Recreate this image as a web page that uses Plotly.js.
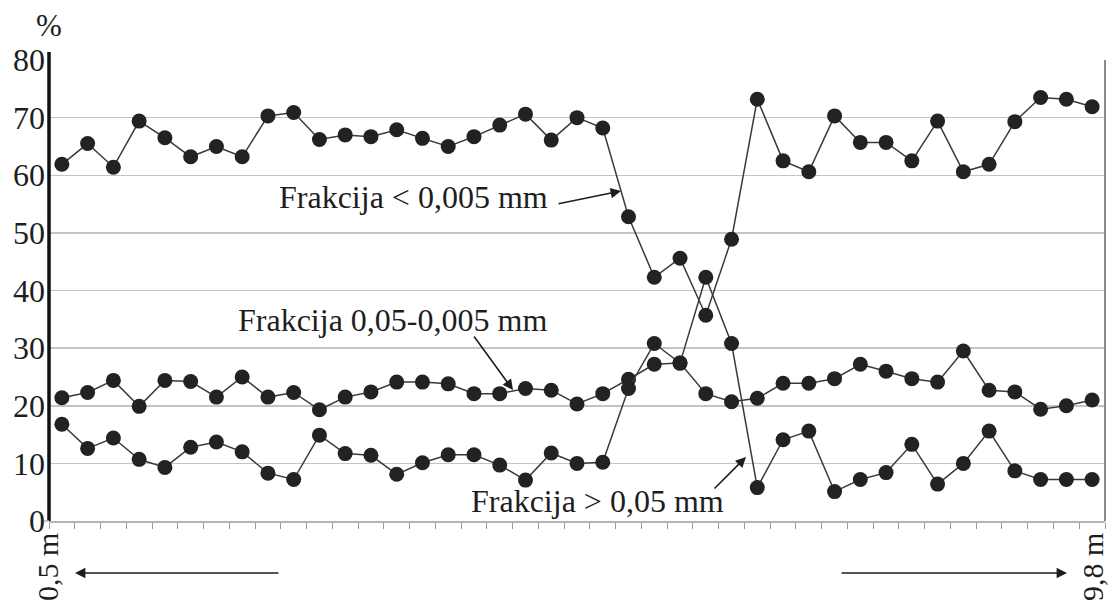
<!DOCTYPE html>
<html>
<head>
<meta charset="utf-8">
<script src="https://cdn.plot.ly/plotly-3.0.1.min.js"></script>
<style>
  html, body { margin: 0; padding: 0; background: #ffffff; }
  #chart { width: 1112px; height: 605px; }
</style>
</head>
<body>
<div id="chart"></div>
<script>
// Sample positions along the profile (0,5 m -> 9,8 m)
const samples = [1,2,3,4,5,6,7,8,9,10,11,12,13,14,15,16,17,18,19,20,21,22,23,24,25,26,27,28,29,30,31,32,33,34,35,36,37,38,39,40,41];

// Frakcija < 0,005 mm (%)
const fineClay = [61.9,65.5,61.4,69.4,66.5,63.2,65.0,63.2,70.3,70.9,66.2,67.0,66.7,67.9,66.4,65.0,66.7,68.7,70.6,66.1,70.0,68.2,52.8,42.3,45.6,35.7,48.9,73.2,62.5,60.6,70.3,65.7,65.7,62.5,69.4,60.6,61.9,69.3,73.5,73.2,71.9];

// Frakcija 0,05-0,005 mm (%)
const silt = [21.4,22.3,24.4,19.9,24.4,24.2,21.5,25.0,21.5,22.3,19.3,21.5,22.4,24.1,24.1,23.8,22.1,22.1,23.0,22.7,20.3,22.1,24.6,27.2,27.4,22.1,20.7,21.3,23.9,23.9,24.7,27.2,26.0,24.7,24.1,29.5,22.7,22.4,19.4,20.0,21.0];

// Frakcija > 0,05 mm (%)
const sand = [16.8,12.6,14.4,10.7,9.3,12.8,13.7,12.0,8.3,7.2,14.9,11.7,11.4,8.1,10.1,11.5,11.5,9.7,7.1,11.8,10.0,10.2,23.0,30.8,27.4,42.3,30.8,5.8,14.1,15.6,5.1,7.2,8.4,13.3,6.4,10.0,15.6,8.7,7.2,7.2,7.2];

const yTicks = [0,10,20,30,40,50,60,70,80];
const labels = ["Frakcija < 0,005 mm", "Frakcija 0,05-0,005 mm", "Frakcija > 0,05 mm"];
const startLabel = "0,5 m";
const endLabel = "9,8 m";
const unitLabel = "%";

// ---- layout geometry (pixels) ----
const W = 1112, H = 605;
const M = {l: 49, r: 7, t: 60, b: 84};
const PW = W - M.l - M.r, PH = H - M.t - M.b;
const px = x => (x - M.l) / PW;          // pixel -> paper x
const py = y => (H - M.b - y) / PH;      // pixel -> paper y

const FONT = "Liberation Serif";
const INK = "#1e1e1e";

function series(y, name) {
  return {
    x: samples, y: y, name: name, type: "scatter", mode: "lines+markers",
    line: {color: "#3a3a3a", width: 1.5},
    marker: {color: "#222222", size: 15, line: {width: 0}},
    hoverinfo: "x+y"
  };
}

const data = [series(fineClay, labels[0]), series(silt, labels[1]), series(sand, labels[2])];

const tickPos = [];
for (let i = 0; i <= samples.length; i++) tickPos.push(samples[0] - 0.5 + i);

const layout = {
  width: W, height: H,
  margin: M,
  paper_bgcolor: "#ffffff",
  plot_bgcolor: "#ffffff",
  showlegend: false,
  font: {family: FONT, color: INK, size: 27},
  xaxis: {
    range: [samples[0] - 0.5, samples[samples.length - 1] + 0.5],
    tickmode: "array", tickvals: tickPos, showticklabels: false,
    ticks: "outside", ticklen: 6, tickwidth: 1, tickcolor: "#9a9a9a",
    showgrid: false, zeroline: false,
    showline: true, linecolor: "#b5b5b5", linewidth: 1.5,
    fixedrange: true
  },
  yaxis: {
    range: [0, 80],
    tickmode: "array", tickvals: yTicks,
    tickfont: {family: FONT, size: 32, color: INK},
    ticks: "", ticklabelstandoff: 3,
    showgrid: true, gridcolor: "#c4c4c4", gridwidth: 1.5,
    zeroline: false,
    showline: false,
    fixedrange: true
  },
  shapes: [
    {type: "line", xref: "paper", yref: "paper", x0: 0, x1: 0, y0: 0, y1: py(52), line: {color: "#111111", width: 3.5}},
    {type: "line", xref: "paper", yref: "paper", x0: 1, x1: 1, y0: 0, y1: 1, line: {color: "#8a8a8a", width: 2}},
    {type: "line", xref: "paper", yref: "paper", x0: px(44), x1: 0, y0: 0, y1: 0, line: {color: "#b5b5b5", width: 1.5}}
  ],
  annotations: [
    {xref: "paper", yref: "paper", x: px(49), y: py(26), text: unitLabel, showarrow: false,
     font: {family: FONT, size: 31, color: INK}, xanchor: "center", yanchor: "middle"},
    {xref: "paper", yref: "paper", x: px(413), y: py(197), text: labels[0], showarrow: false,
     font: {family: FONT, size: 32, color: INK}, xanchor: "center", yanchor: "middle"},
    {xref: "paper", yref: "paper", x: px(392), y: py(320), text: labels[1], showarrow: false,
     font: {family: FONT, size: 32, color: INK}, xanchor: "center", yanchor: "middle"},
    {xref: "paper", yref: "paper", x: px(597), y: py(501), text: labels[2], showarrow: false,
     font: {family: FONT, size: 32, color: INK}, xanchor: "center", yanchor: "middle"},
    {xref: "paper", yref: "paper", x: px(621), y: py(191), ax: -64, ay: 13, text: "", showarrow: true,
     arrowhead: 2, arrowsize: 1.3, arrowwidth: 1.6, arrowcolor: "#1e1e1e"},
    {xref: "paper", yref: "paper", x: px(513), y: py(390), ax: -40, ay: -55, text: "", showarrow: true,
     arrowhead: 2, arrowsize: 1.3, arrowwidth: 1.6, arrowcolor: "#1e1e1e"},
    {xref: "paper", yref: "paper", x: px(746), y: py(457), ax: -33, ay: 33, text: "", showarrow: true,
     arrowhead: 2, arrowsize: 1.3, arrowwidth: 1.6, arrowcolor: "#1e1e1e"},
    {xref: "paper", yref: "paper", x: px(75), y: py(573), ax: 205, ay: 0, text: "", showarrow: true,
     arrowhead: 2, arrowsize: 1.3, arrowwidth: 1.6, arrowcolor: "#1e1e1e"},
    {xref: "paper", yref: "paper", x: px(1067), y: py(573), ax: -227, ay: 0, text: "", showarrow: true,
     arrowhead: 2, arrowsize: 1.3, arrowwidth: 1.6, arrowcolor: "#1e1e1e"},
    {xref: "paper", yref: "paper", x: px(47), y: py(567), text: startLabel, showarrow: false, textangle: -90,
     font: {family: FONT, size: 30, color: INK}, xanchor: "center", yanchor: "middle"},
    {xref: "paper", yref: "paper", x: px(1092), y: py(567), text: endLabel, showarrow: false, textangle: -90,
     font: {family: FONT, size: 30, color: INK}, xanchor: "center", yanchor: "middle"}
  ]
};

Plotly.newPlot("chart", data, layout, {displayModeBar: false, staticPlot: true});
</script>
</body>
</html>
